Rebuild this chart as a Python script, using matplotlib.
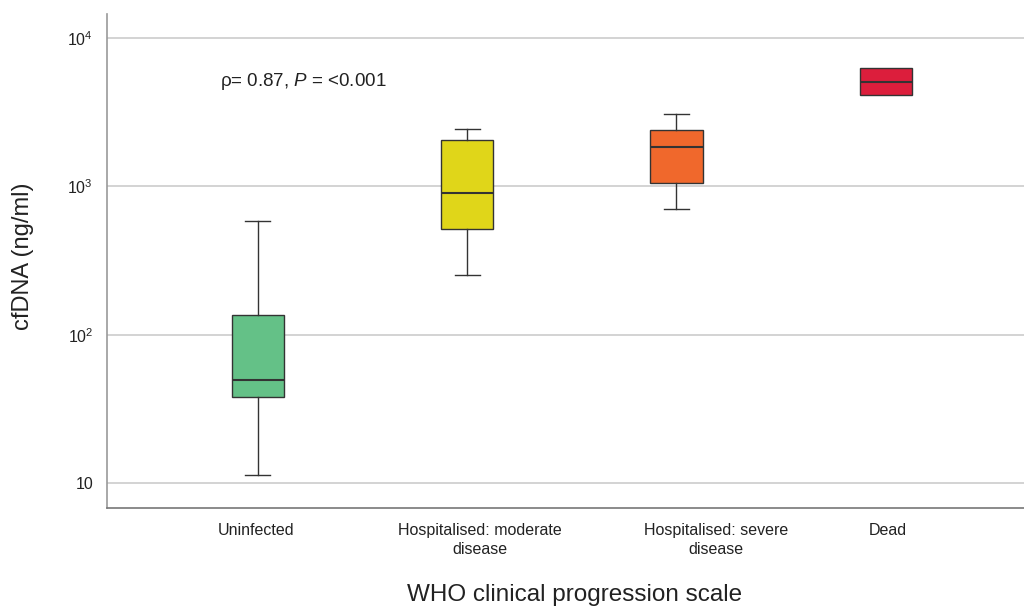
import matplotlib.pyplot as plt

plt.rcParams['font.family'] = ['Liberation Sans', 'DejaVu Sans']
plt.rcParams['mathtext.fontset'] = 'custom'
plt.rcParams['mathtext.rm'] = 'Liberation Sans'
plt.rcParams['mathtext.it'] = 'Liberation Sans:italic'

groups = ['Uninfected', 'Hospitalised: moderate\ndisease',
          'Hospitalised: severe\ndisease', 'Dead']
whislo = [11.3, 251, 700, 4130]
q1 = [38.2, 513, 1047, 4130]
med = [49.8, 897, 1832, 5060]
q3 = [136.5, 2040, 2383, 6280]
whishi = [581, 2420, 3100, 6280]
colors = ['#64c187', '#e0d619', '#f0682c', '#dc1e3c']

stats = []
for i in range(len(groups)):
    stats.append(dict(label=groups[i], whislo=whislo[i], q1=q1[i], med=med[i],
                      q3=q3[i], whishi=whishi[i], fliers=[]))

fig = plt.figure(figsize=(10.24, 6.06), dpi=100)
ax = fig.add_axes([0.1045, 0.1617, 0.8955, 0.815])

ax.set_yscale('log')
ax.set_ylim(6.79, 14500)
ax.set_xlim(-0.72, 3.66)
ax.yaxis.grid(True, which='major', color='#cccccc', lw=1.2)
ax.set_axisbelow(True)

bp = ax.bxp(stats, positions=range(len(groups)), widths=0.25, capwidths=0.12,
            patch_artist=True, showfliers=False,
            boxprops=dict(edgecolor='#333333', linewidth=1.0),
            medianprops=dict(color='#333333', linewidth=1.5),
            whiskerprops=dict(color='#333333', linewidth=1.0),
            capprops=dict(color='#333333', linewidth=1.0))
for patch, c in zip(bp['boxes'], colors):
    patch.set_facecolor(c)
# the Dead group has no whiskers
for line in bp['whiskers'][6:] + bp['caps'][6:]:
    line.set_visible(False)

ax.set_yticks([10, 100, 1000, 10000])
ax.set_yticklabels(['10', r'$10^2$', r'$10^3$', r'$10^4$'])
ax.minorticks_off()
ax.tick_params(axis='y', length=0, pad=10, labelsize=11.5, labelcolor='#222222')
ax.tick_params(axis='x', length=0, pad=11, labelsize=11.5, labelcolor='#222222')
# labels in the original sit a little right of the boxes
ax.set_xticks([-0.01, 1.06, 2.19, 3.01])
ax.set_xticklabels(groups, linespacing=1.35)

for s in ['top', 'right']:
    ax.spines[s].set_visible(False)
ax.spines['left'].set_color('#999999')
ax.spines['bottom'].set_color('#777777')
ax.spines['left'].set_linewidth(1.2)
ax.spines['bottom'].set_linewidth(1.2)

ax.set_ylabel('cfDNA (ng/ml)', fontsize=17, color='#222222')
ax.yaxis.set_label_coords(-0.080, 0.51)
ax.set_xlabel('WHO clinical progression scale', fontsize=17.5, color='#222222',
              va='center')
ax.xaxis.set_label_coords(0.51, -0.176)

ax.text(-0.18, 5060, r'ρ= 0.87, $\mathit{P}$ = <0.001', fontsize=13.5,
        ha='left', va='center', color='#222222')

fig.savefig('out.png', dpi=100)
